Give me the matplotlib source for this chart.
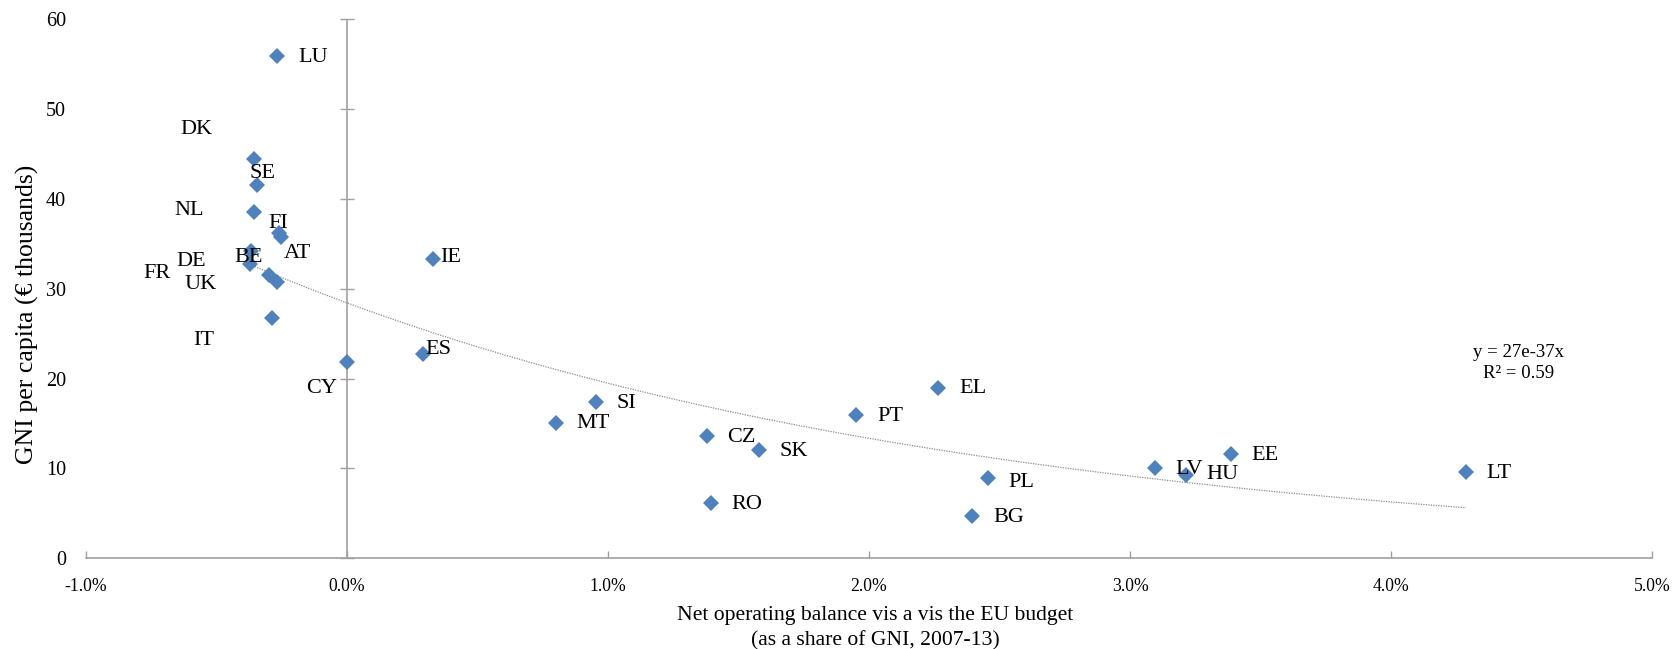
import numpy as np
import matplotlib
matplotlib.use("Agg")
import matplotlib.pyplot as plt

plt.rcParams['font.family'] = ['Liberation Serif', 'DejaVu Serif']

# Member states, net operating balance (% of GNI, 2007-13) and GNI per capita (EUR thousands)
countries = ['LU', 'DK', 'SE', 'NL', 'FI', 'AT', 'BE', 'DE', 'FR', 'UK', 'IT', 'IE', 'CY',
             'ES', 'SI', 'MT', 'CZ', 'SK', 'RO', 'PT', 'EL', 'PL', 'BG', 'LV', 'HU', 'EE', 'LT']
net_balance = [-0.265, -0.356, -0.344, -0.356, -0.258, -0.250, -0.366, -0.369, -0.299, -0.267,
               -0.287, 0.330, 0.000, 0.294, 0.955, 0.801, 1.379, 1.579, 1.394, 1.951,
               2.266, 2.455, 2.396, 3.095, 3.214, 3.385, 4.286]
gni_per_capita = [55.9, 44.5, 41.5, 38.6, 36.2, 35.8, 34.2, 32.8, 31.5, 30.7,
                  26.8, 33.3, 21.8, 22.7, 17.4, 15.1, 13.6, 12.0, 6.1, 15.95,
                  19.0, 8.9, 4.7, 10.0, 9.3, 11.6, 9.6]

x_ticks = [-1, 0, 1, 2, 3, 4, 5]
y_ticks = [0, 10, 20, 30, 40, 50, 60]
trend_label = "y = 27e-37x\nR\u00b2 = 0.59"
x_title = "Net operating balance vis a vis the EU budget\n(as a share of GNI, 2007-13)"
y_title = "GNI per capita (\u20ac thousands)"

# label placement (points, relative to the marker)
label_offsets = {
    'LU': (15, -0.7), 'DK': (-53, 20.8), 'SE': (-5.4, 8.5), 'NL': (-57, 0.8),
    'FI': (-7.7, 6.7), 'AT': (1.9, -12), 'BE': (-12.1, -4.3), 'DE': (-53.1, 1.5),
    'FR': (-90.5, 1.2), 'UK': (-66.5, -1.2), 'IT': (-56.4, -16.8), 'CY': (-29.5, -18.7),
    'IE': (5.2, 1.5), 'ES': (1.7, 3.4), 'PL': (15, -3.0), 'HU': (15, 0.0),
}
default_offset = (15, -0.8)

axis_grey = '#A0A0A0'
marker_blue = '#4F81BD'

fig = plt.figure(figsize=(16.77, 6.49), dpi=100)
ax = fig.add_axes([0.0510, 0.1398, 0.9343, 0.8305])

x = np.array(net_balance)
y = np.array(gni_per_capita)

# exponential trend (least squares on log scale), over the data range
b, log_a = np.polyfit(x / 100.0, np.log(y), 1)
xt = np.linspace(x.min(), x.max(), 200)
ax.plot(xt, np.exp(log_a) * np.exp(b * xt / 100.0), color='#8C8C8C',
        lw=0.9, ls=(0, (1, 1)), zorder=2)

ax.plot(x, y, ls='none', marker='D', ms=8.4, mfc=marker_blue, mec=marker_blue,
        mew=0, zorder=3)

for name, xv, yv in zip(countries, x, y):
    dx, dy = label_offsets.get(name, default_offset)
    ax.annotate(name, (xv, yv), xytext=(dx, dy), textcoords='offset points',
                ha='left', va='center', fontsize=16, color='black', zorder=4)

ax.text(4.489, 21.7, trend_label, ha='center', va='center', fontsize=13.5,
        linespacing=1.3, color='black')

ax.set_xlim(x_ticks[0], x_ticks[-1])
ax.set_ylim(y_ticks[0], y_ticks[-1])
ax.set_xticks(x_ticks)
ax.set_xticklabels([f"{v:.1f}%" for v in x_ticks])
ax.set_yticks(y_ticks)
ax.set_yticklabels([str(v) for v in y_ticks])

for side in ['top', 'right', 'left']:
    ax.spines[side].set_visible(False)
ax.spines['bottom'].set_color(axis_grey)
ax.spines['bottom'].set_linewidth(1.2)

ax.tick_params(axis='x', direction='in', length=5, width=1.0, color=axis_grey,
               labelsize=12.7, pad=14)
ax.tick_params(axis='y', length=0, labelsize=14.5, pad=14)

# vertical axis through zero with crossing tick marks
ax.axvline(0, color=axis_grey, lw=1.2, zorder=1)
ax.plot(np.zeros(len(y_ticks)), y_ticks, ls='none', marker='_', ms=9.4,
        mew=1.0, color=axis_grey, zorder=1, clip_on=False)

fig.text(0.522, 0.0318, x_title, ha='center', va='center', fontsize=15.6,
         linespacing=1.37)
fig.text(0.0164, 0.515, y_title, rotation=90, ha='center', va='center', fontsize=18.5)

fig.savefig('out.png', dpi=100)
